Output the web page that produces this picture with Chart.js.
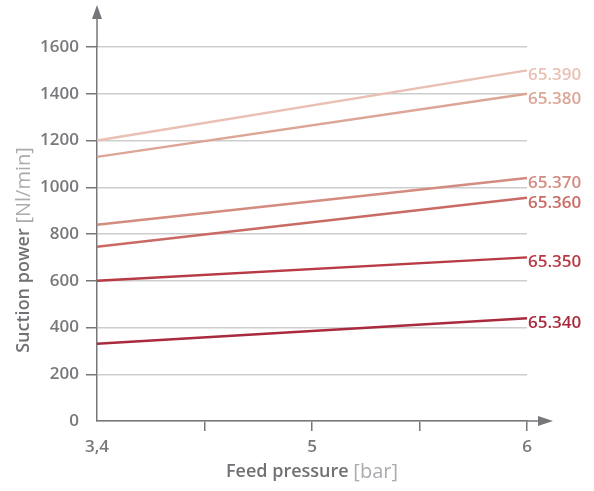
<!DOCTYPE html>
<html>
<head>
<meta charset="utf-8">
<script src="https://cdn.jsdelivr.net/npm/chart.js@4"></script>
<style>
  html, body { margin: 0; padding: 0; background: #fff; }
  #chart { display: block; }
</style>
</head>
<body>
<canvas id="chart" width="594" height="491"></canvas>
<script>
// Data
const pressureLabels = ['3,4', '', '5', '', '6'];
const typeNames = ['65.390', '65.380', '65.370', '65.360', '65.350', '65.340'];
const startPower = [1200, 1130, 840, 745, 600, 330];
const endPower = [1500, 1400, 1040, 955, 700, 440];
const lineColors = ['#e9c0b3', '#dca595', '#d48b80', '#c96a64', '#b83a45', '#a82a3c'];

const axisColor = '#76777a';
const gridColor = '#cdcdcd';
const font = "'Open Sans', 'DejaVu Sans', sans-serif";

const datasets = typeNames.map((name, i) => ({
    label: name,
    data: [startPower[i], null, null, null, endPower[i]],
    borderColor: lineColors[i],
    borderWidth: 2.5,
    pointRadius: 0,
    spanGaps: true,
    tension: 0
}));

// end-of-line labels, arrows and two-tone axis titles
const decorations = {
    id: 'decorations',
    afterDraw(chart) {
        const ctx = chart.ctx;
        const area = chart.chartArea;

        // line labels
        ctx.save();
        ctx.font = `600 17px ${font}`;
        ctx.textAlign = 'left';
        ctx.textBaseline = 'middle';
        chart.data.datasets.forEach((ds, i) => {
            const pt = chart.getDatasetMeta(i).data[4];
            ctx.fillStyle = ds.borderColor;
            ctx.fillText(ds.label, pt.x + 1, pt.y + 5);
        });
        ctx.restore();

        // axis extensions with arrow heads
        ctx.save();
        ctx.strokeStyle = axisColor;
        ctx.fillStyle = axisColor;
        ctx.lineWidth = 1.5;
        ctx.beginPath();
        ctx.moveTo(area.left, area.top);
        ctx.lineTo(area.left, 16);
        ctx.moveTo(area.right, area.bottom);
        ctx.lineTo(540, area.bottom);
        ctx.stroke();
        ctx.beginPath();
        ctx.moveTo(area.left, 5);
        ctx.lineTo(area.left - 5, 19);
        ctx.lineTo(area.left + 5, 19);
        ctx.closePath();
        ctx.fill();
        ctx.beginPath();
        ctx.moveTo(553, area.bottom);
        ctx.lineTo(538, area.bottom - 5);
        ctx.lineTo(538, area.bottom + 5);
        ctx.closePath();
        ctx.fill();
        ctx.restore();

        // axis titles
        const drawTitle = (bold, light, cx, cy, rotate) => {
            ctx.save();
            ctx.translate(cx, cy);
            if (rotate) ctx.rotate(-Math.PI / 2);
            ctx.textBaseline = 'middle';
            ctx.textAlign = 'left';
            const boldFont = `600 18px ${font}`;
            const lightFont = `400 20px ${font}`;
            ctx.font = boldFont;
            const w1 = ctx.measureText(bold + ' ').width;
            ctx.font = lightFont;
            const w2 = ctx.measureText(light).width;
            const x = -(w1 + w2) / 2;
            ctx.font = boldFont;
            ctx.fillStyle = '#707174';
            ctx.fillText(bold + ' ', x, 0);
            ctx.font = lightFont;
            ctx.fillStyle = '#a9abae';
            ctx.fillText(light, x + w1, 0);
            ctx.restore();
        };
        drawTitle('Feed pressure', '[bar]', (area.left + area.right) / 2, 472, false);
        drawTitle('Suction power', '[Nl/min]', 24, 250, true);
    }
};

new Chart(document.getElementById('chart'), {
    type: 'line',
    data: { labels: pressureLabels, datasets: datasets },
    plugins: [decorations],
    options: {
        responsive: false,
        devicePixelRatio: 1,
        animation: false,
        layout: { padding: { left: 0, right: 67, top: 47, bottom: 0 } },
        plugins: {
            legend: { display: false },
            tooltip: { enabled: false }
        },
        scales: {
            x: {
                type: 'category',
                offset: false,
                afterFit(scale) { scale.height = 70; },
                border: { color: axisColor, width: 1.5 },
                grid: {
                    drawOnChartArea: false,
                    tickLength: 10,
                    lineWidth: 1.5,
                    tickColor: c => c.index === 0 ? 'rgba(0,0,0,0)' : axisColor
                },
                ticks: {
                    autoSkip: false,
                    maxRotation: 0,
                    padding: 6,
                    color: '#77787b',
                    font: { family: font, size: 17, weight: '600' }
                }
            },
            y: {
                min: 0,
                max: 1600,
                afterFit(scale) { scale.width = 97; },
                border: { color: axisColor, width: 1.5 },
                grid: {
                    color: gridColor,
                    lineWidth: 1.5,
                    tickLength: 11,
                    tickColor: c => c.index === 0 ? 'rgba(0,0,0,0)' : axisColor
                },
                ticks: {
                    stepSize: 200,
                    padding: 7,
                    color: '#77787b',
                    font: { family: font, size: 17, weight: '600' },
                    callback: v => String(v)
                }
            }
        }
    }
});
</script>
</body>
</html>
